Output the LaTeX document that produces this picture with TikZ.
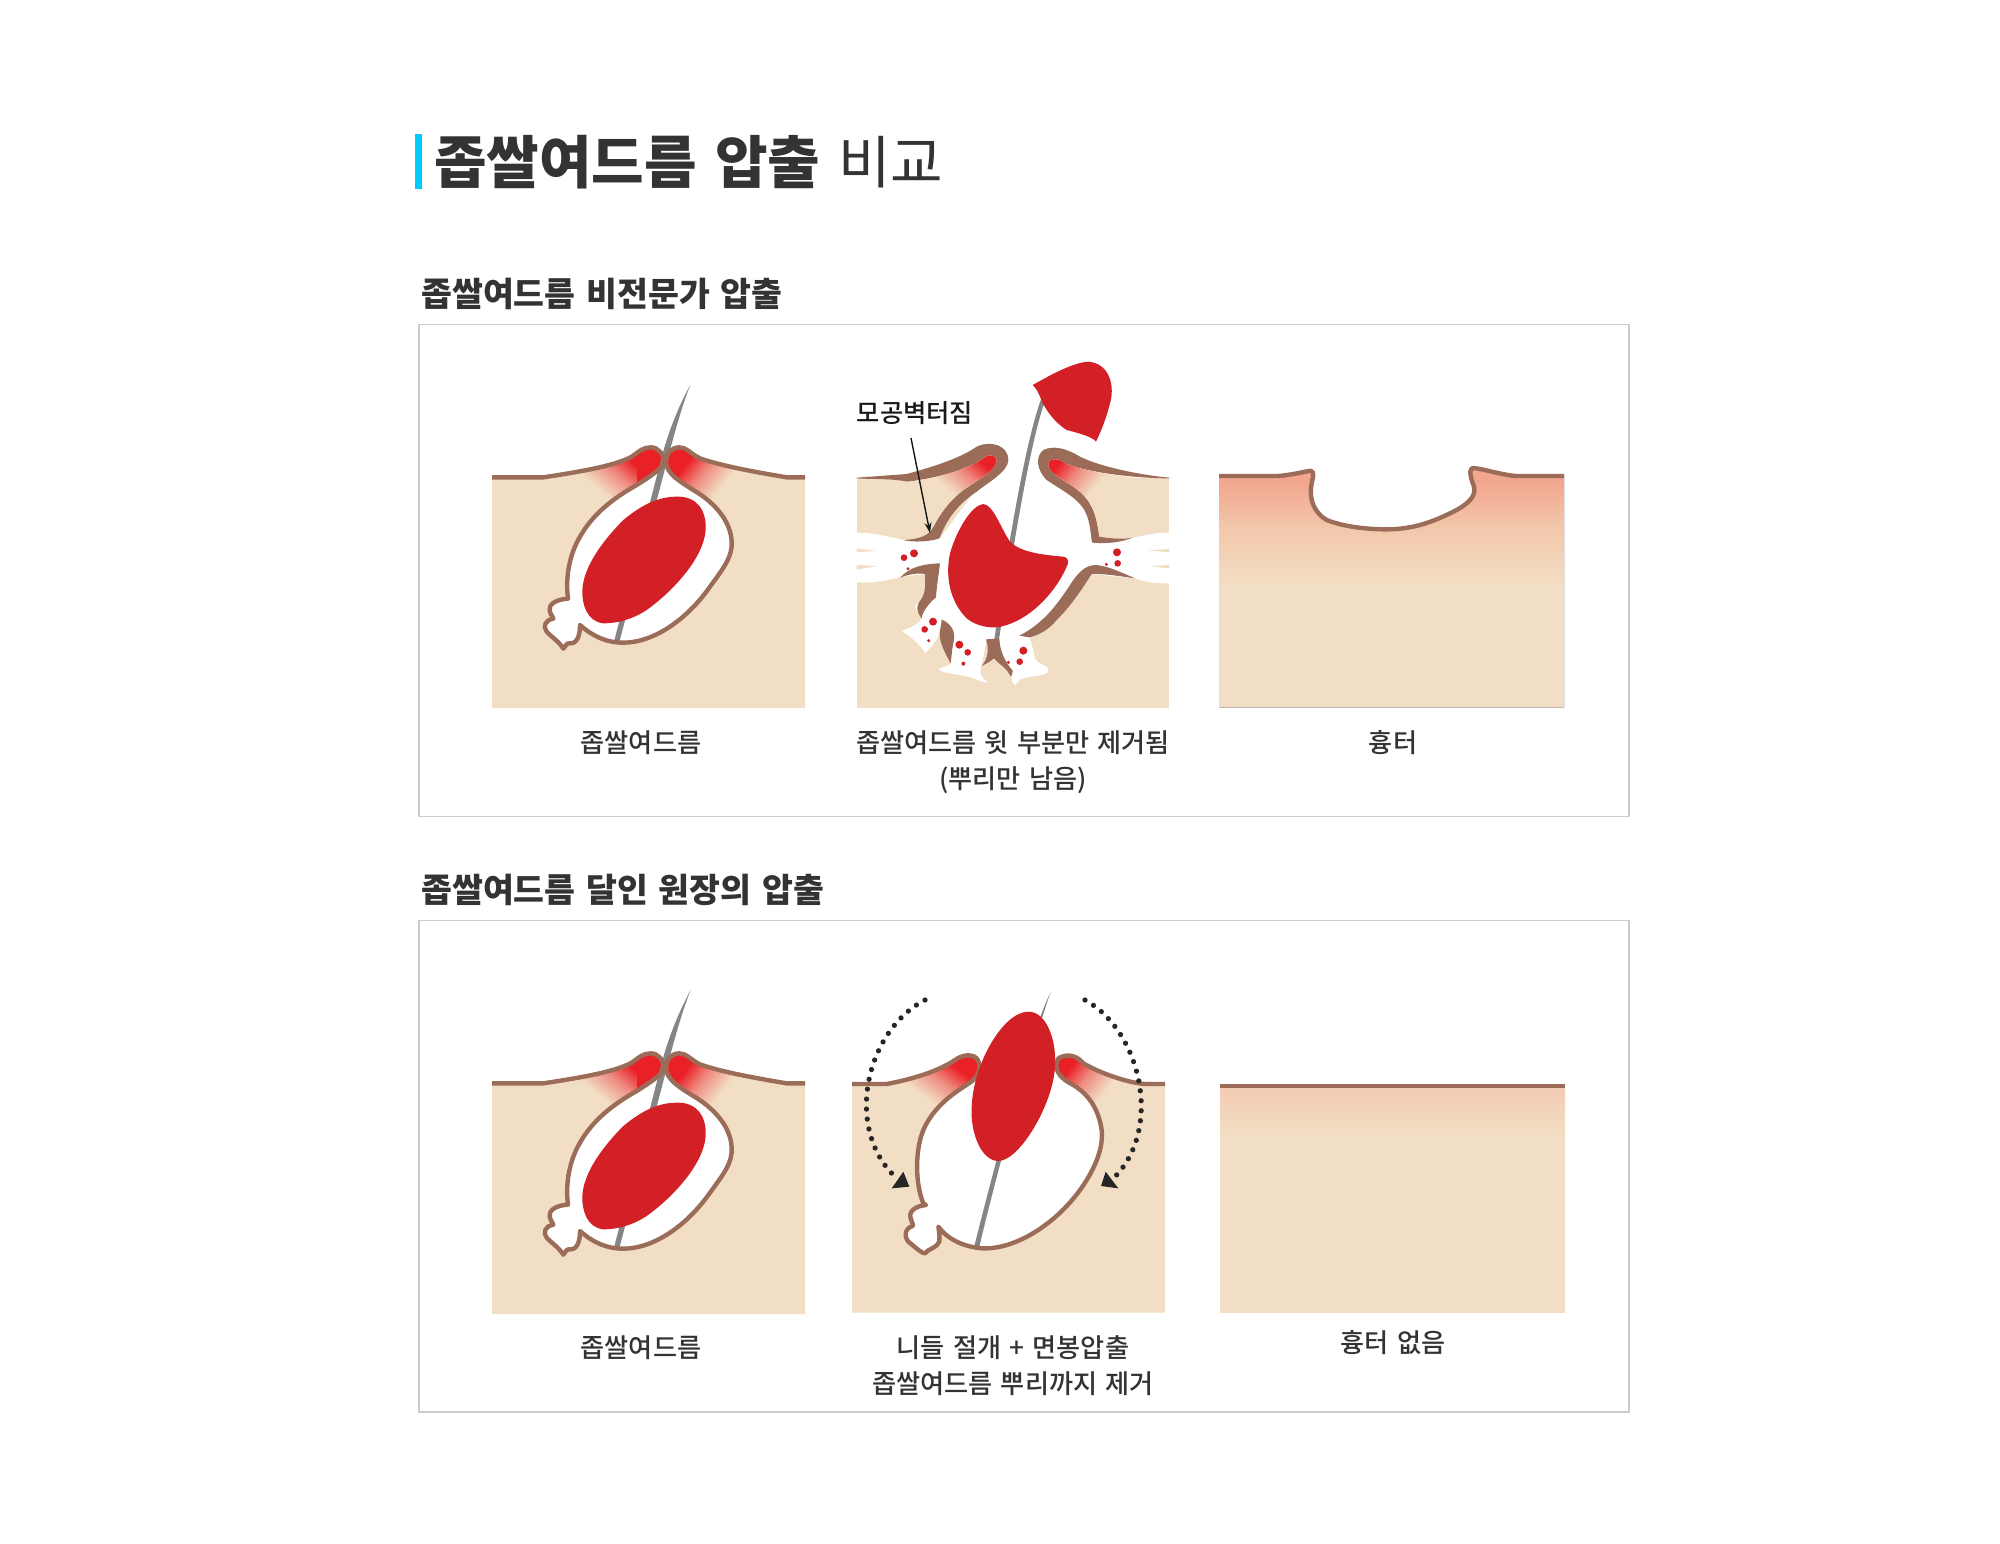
\documentclass[tikz,border=0pt]{standalone}
\usepackage{fontspec}
\setmainfont[WordSpace=1.4]{Noto Sans CJK KR}
\newfontfamily\krmedium[WordSpace=1.4]{Noto Sans CJK KR Medium}
\usetikzlibrary{arrows.meta}

\definecolor{skintone}{HTML}{F2DEC4}
\definecolor{lipbrown}{HTML}{9B6C58}
\definecolor{lipred}{HTML}{EA2027}
\definecolor{sebum}{HTML}{D32027}
\definecolor{hairgray}{HTML}{858585}
\definecolor{inkgray}{HTML}{333333}
\definecolor{framegray}{HTML}{CCCCCC}
\definecolor{barblue}{HTML}{00CCFF}
\definecolor{scarmid}{HTML}{F2C8AC}
\definecolor{scartop}{HTML}{F2A68E}
\definecolor{smoothtop}{HTML}{F3CBB2}
\colorlet{lipsoft}{lipred!45!skintone}

% gradients: redness around the pore and under the scar
\pgfdeclarehorizontalshading{lipfade}{100bp}{color(0bp)=(skintone);color(44bp)=(skintone);color(53bp)=(lipsoft);color(60bp)=(lipred);color(100bp)=(lipred)}
\pgfdeclareverticalshading{scarfade}{100bp}{color(0bp)=(skintone);color(50bp)=(skintone);color(62bp)=(scarmid);color(72bp)=(scartop);color(100bp)=(scartop)}
\pgfdeclareverticalshading{smoothfade}{100bp}{color(0bp)=(skintone);color(64bp)=(skintone);color(75bp)=(smoothtop);color(100bp)=(smoothtop)}

\newcommand{\lipglow}[3]{\begin{scope}[shift={(#1,#2)}]\shade[shading=lipfade,shading angle=#3] (-200,-200) rectangle (200,200);\end{scope}}
\newcommand{\reddot}[3]{\fill[sebum] (#1,#2) circle (#3);}

% closed outline of the sac, from the left lip round the root to the right lip
\newcommand{\sacwall}{.. controls (548,325) and (510,350) .. (470,375) .. controls (400,415) and (340,460) .. (300,530) .. controls (270,580) and (255,650) .. (264,716) .. controls (225,718) and (205,735) .. (209,752) .. controls (213,770) and (222,772) .. (220,776) .. controls (195,780) and (188,800) .. (200,815) .. controls (215,832) and (235,842) .. (250,866) .. controls (258,860) and (258,848) .. (268,850) .. controls (290,852) and (300,830) .. (300,795) .. controls (340,830) and (380,848) .. (430,848) .. controls (520,848) and (620,780) .. (690,680) .. controls (730,625) and (758,590) .. (755,545) .. controls (752,480) and (700,425) .. (640,390) .. controls (600,365) and (558,340) .. (558,305)}
\newcommand{\comedotop}{(36,352) -- (190,352) .. controls (280,338) and (400,320) .. (455,290) .. controls (480,272) and (490,262) .. (512,262) .. controls (535,262) and (548,280) .. (553,305) -- (558,305) .. controls (558,280) and (575,262) .. (598,262) .. controls (620,262) and (630,280) .. (660,295) .. controls (730,320) and (850,340) .. (920,352) -- (975,352)}

\tikzset{
  skinline/.style={draw=lipbrown,line width=2.5pt,line join=round},
  dotpath/.style={draw=black!85,line width=3pt,line cap=round,dash pattern=on 0pt off 5.7pt},
  mainhead/.style={anchor=west,text=inkgray,font=\fontsize{32.5}{36}\selectfont,inner sep=0pt},
  subhead/.style={anchor=west,text=inkgray,font=\bfseries\fontsize{19.1}{22}\selectfont,inner sep=0pt},
  caption/.style={text=inkgray,font=\krmedium\fontsize{14.9}{20.5}\selectfont,inner sep=0pt,align=center},
  frame/.style={draw=framegray,line width=0.7pt},
  comedo/.pic={
    % skin with the raised lips
    \fill[skintone] \comedotop -- (975,1044) -- (36,1044) -- cycle;
    \begin{scope}
      \clip \comedotop -- (975,1044) -- (36,1044) -- cycle;
      \lipglow{429}{387}{50}
      \lipglow{672}{370}{141.5}
    \end{scope}
    % sac
    \fill[white] (553,305) \sacwall -- cycle;
    % hair
    \fill[hairgray] (632,72) .. controls (590,150) and (565,220) .. (548,280) -- (402,845) -- (418,846) -- (566,285) .. controls (585,215) and (605,140) .. cycle;
    \draw[skinline] (36,352) -- (190,352) .. controls (280,338) and (400,320) .. (455,290) .. controls (480,272) and (490,262) .. (512,262) .. controls (535,262) and (548,280) .. (553,305) \sacwall .. controls (558,280) and (575,262) .. (598,262) .. controls (620,262) and (630,280) .. (660,295) .. controls (730,320) and (850,340) .. (920,352) -- (975,352);
    % sebum plug
    \fill[sebum] (590,410) .. controls (650,408) and (680,450) .. (677,510) .. controls (670,600) and (570,700) .. (500,750) .. controls (440,790) and (380,790) .. (370,790) .. controls (320,785) and (305,730) .. (307,690) .. controls (310,620) and (370,540) .. (430,480) .. controls (490,430) and (540,410) .. (590,410) -- cycle;
  }
}

\begin{document}
\begin{tikzpicture}[x=0.02cm,y=-0.02cm]

    \useasboundingbox (0,0) rectangle (2000,1543);
    \fill[white] (0,0) rectangle (2000,1543);

    % headings
    \fill[barblue] (415,134) rectangle (422,189);
    \node[mainhead] (mainTitle) at (434,162) {\textbf{좁쌀여드름 압출} 비교};
    \node[subhead] (topTitle) at (421,294) {좁쌀여드름 비전문가 압출};
    \node[subhead] (lowTitle) at (421,890) {좁쌀여드름 달인 원장의 압출};

    % frames
    \draw[frame] (419,324.5) rectangle (1629,816.5);
    \draw[frame] (419,920.5) rectangle (1629,1412);

    % untreated comedones
    \pic[shift={(480,360)},scale=1/3] {comedo};
    \pic[shift={(480,966)},scale=1/3] {comedo};

    % ruptured pore
    \begin{scope}[shift={(840,350)},scale=1/3]
      \fill[skintone] (50,385) rectangle (988,1073);
      % cavity with its side channels and lobes
      \fill[white] (400,430) -- (300,565) -- (190,570) .. controls (120,553) and (90,548) .. (50,548) -- (50,697) .. controls (100,700) and (150,690) .. (185,680) -- (255,672) -- (258,725) -- (245,745) -- (225,770) -- (245,805) .. controls (240,820) and (210,835) .. (185,842) .. controls (210,860) and (240,880) .. (255,910) .. controls (275,890) and (295,870) .. (300,840) -- (332,940) .. controls (325,950) and (305,950) .. (295,958) .. controls (320,975) and (360,970) .. (400,985) .. controls (415,990) and (430,1000) .. (445,997) .. controls (425,985) and (415,970) .. (425,948) -- (440,868) -- (518,962) .. controls (510,975) and (515,1000) .. (525,1005) .. controls (535,1000) and (535,985) .. (550,985) .. controls (590,975) and (630,978) .. (625,955) .. controls (615,940) and (592,945) .. (585,925) .. controls (580,900) and (575,880) .. (568,862) -- (755,672) -- (885,685) .. controls (920,700) and (960,700) .. (988,700) -- (988,548) .. controls (950,545) and (900,560) .. (880,562) -- (765,578) -- (750,450) -- (620,350) -- (505,350) -- cycle;
      % skin slivers in the channels
      \fill[skintone] (50,595) -- (108,603) -- (50,607) -- cycle;
      \fill[skintone] (50,645) -- (112,648) -- (50,659) -- cycle;
      \fill[skintone] (988,597) -- (925,601) -- (988,607) -- cycle;
      \fill[skintone] (988,645) -- (928,648) -- (988,656) -- cycle;
      % hair
      \fill[hairgray] (602,150) .. controls (550,300) and (500,620) .. (463,868) -- (477,868) .. controls (515,620) and (565,300) .. (613,158) -- cycle;
      % torn walls, left and right flap
      \fill[lipbrown] (50,383) -- (200,372) .. controls (280,350) and (360,325) .. (410,290) .. controls (450,270) and (505,285) .. (505,330) .. controls (505,365) and (440,400) .. (410,425) .. controls (350,465) and (320,510) .. (298,565) .. controls (270,575) and (220,578) .. (190,570) .. controls (240,568) and (270,555) .. (280,530) .. controls (300,490) and (330,450) .. (370,420) .. controls (420,385) and (470,360) .. (470,330) .. controls (465,312) and (445,312) .. (430,325) .. controls (380,360) and (290,385) .. (205,395) .. controls (150,385) and (100,388) .. (50,385) -- cycle;
      \fill[lipbrown] (988,383) .. controls (900,375) and (780,350) .. (720,320) .. controls (680,295) and (640,285) .. (610,300) .. controls (585,320) and (590,360) .. (620,390) .. controls (680,430) and (725,450) .. (742,500) .. controls (755,540) and (752,575) .. (758,578) .. controls (810,582) and (850,575) .. (880,562) .. controls (850,570) and (810,565) .. (778,560) .. controls (770,500) and (760,450) .. (700,410) .. controls (660,385) and (620,360) .. (625,340) .. controls (635,322) and (655,325) .. (675,340) .. controls (730,365) and (880,385) .. (988,385) -- cycle;
      % reddened skin inside the flaps
      \begin{scope}
        \clip (470,330) .. controls (470,360) and (420,385) .. (370,420) .. controls (330,450) and (300,490) .. (280,530) -- (200,500) -- (205,395) .. controls (290,385) and (380,360) .. (430,325) .. controls (445,312) and (465,312) .. (470,330) -- cycle;
        \fill[skintone] (150,250) rectangle (500,560);
        \lipglow{387}{410}{49}
      \end{scope}
      \begin{scope}
        \clip (625,340) .. controls (620,360) and (660,385) .. (700,410) .. controls (760,450) and (770,500) .. (778,560) -- (900,500) -- (900,385) .. controls (880,385) and (730,365) .. (675,340) .. controls (655,325) and (635,322) .. (625,340) -- cycle;
        \fill[skintone] (600,250) rectangle (950,560);
        \lipglow{712}{400}{141.5}
      \end{scope}
      % remaining pieces of wall
      \fill[lipbrown] (180,683) .. controls (210,650) and (250,642) .. (300,640) .. controls (295,680) and (290,710) .. (288,742) .. controls (265,760) and (245,790) .. (245,805) .. controls (230,785) and (225,770) .. (245,745) .. controls (258,725) and (255,700) .. (255,672) .. controls (240,668) and (205,672) .. (180,683) -- cycle;
      \fill[lipbrown] (305,808) .. controls (340,825) and (345,850) .. (342,870) .. controls (335,900) and (335,920) .. (332,940) .. controls (310,900) and (295,870) .. (300,840) .. controls (303,825) and (305,815) .. (305,808) -- cycle;
      \fill[lipbrown] (438,868) -- (478,866) .. controls (480,905) and (495,935) .. (518,962) .. controls (518,975) and (510,985) .. (510,975) .. controls (500,955) and (480,945) .. (462,925) .. controls (450,935) and (440,940) .. (425,948) .. controls (445,925) and (447,895) .. (438,868) -- cycle;
      \fill[lipbrown] (538,857) .. controls (620,815) and (660,750) .. (700,690) .. controls (725,655) and (745,645) .. (770,645) .. controls (810,650) and (850,670) .. (885,685) .. controls (850,680) and (790,670) .. (755,672) .. controls (730,710) and (700,760) .. (650,810) .. controls (630,835) and (600,855) .. (568,862) .. controls (555,860) and (545,858) .. (538,857) -- cycle;
      % torn plug and the part pulled out
      \fill[sebum] (430,462) .. controls (460,465) and (480,530) .. (510,575) .. controls (545,610) and (620,615) .. (670,620) .. controls (690,625) and (685,640) .. (680,650) .. controls (650,720) and (580,800) .. (500,825) .. controls (460,840) and (410,830) .. (380,805) .. controls (330,755) and (315,680) .. (330,610) .. controls (350,540) and (395,465) .. (430,462) -- cycle;
      \fill[sebum] (578,105) .. controls (640,70) and (700,38) .. (745,35) .. controls (810,40) and (825,110) .. (810,160) .. controls (800,200) and (785,240) .. (768,275) .. controls (760,262) and (720,250) .. (680,240) .. controls (640,215) and (610,170) .. (600,140) .. controls (592,120) and (585,112) .. (578,105) -- cycle;
      % spilled sebum
      \foreach \px/\py/\pr in {222/610/12,192/623/10,204/656/5,279/815/12,254/838/10,266/872/5,358/884/12,383/907/10,370/941/6,550/902/12,539/935/10,505/937/5,831/607/12,833/640/10,799/643/5}
        \reddot{\px}{\py}{\pr};
    \end{scope}

    % label with arrow to the burst wall
    \node[text=black!90,font=\krmedium\fontsize{14.4}{16}\selectfont,inner sep=0pt] (burstLabel) at (915,413) {모공벽터짐};
    \coordinate (burstFrom) at (911,438);
    \coordinate (burstTo) at (930,533);
    \draw[line width=0.8pt,black!90,-{Stealth[length=6pt,width=4pt]}] (burstFrom) -- (burstTo);

    % crater scar
    \begin{scope}[shift={(1200,450)},scale=1/3]
      \fill[shading=scarfade] (57,78) -- (235,78) .. controls (270,75) and (300,68) .. (332,62) .. controls (345,65) and (338,85) .. (335,100) .. controls (325,150) and (345,190) .. (380,210) .. controls (430,230) and (500,238) .. (560,238) .. controls (640,238) and (700,215) .. (760,185) .. controls (800,165) and (830,140) .. (822,110) .. controls (815,90) and (805,65) .. (815,55) .. controls (830,50) and (900,75) .. (950,78) -- (1092,78) -- (1092,772) -- (57,772) -- cycle;
      \fill[skintone] (57,420) rectangle (1092,772);
      \draw[skinline] (57,78) -- (235,78) .. controls (270,75) and (300,68) .. (332,62) .. controls (345,65) and (338,85) .. (335,100) .. controls (325,150) and (345,190) .. (380,210) .. controls (430,230) and (500,238) .. (560,238) .. controls (640,238) and (700,215) .. (760,185) .. controls (800,165) and (830,140) .. (822,110) .. controls (815,90) and (805,65) .. (815,55) .. controls (830,50) and (900,75) .. (950,78) -- (1092,78);
    \end{scope}

    % needle incision, plug lifted out whole
    \begin{scope}[shift={(840,970)},scale=1/3]
      \fill[skintone] (36,342) -- (140,342) .. controls (230,325) and (300,300) .. (345,270) .. controls (365,255) and (395,250) .. (410,265) -- (425,290) -- (645,290) -- (655,265) .. controls (680,250) and (710,255) .. (730,280) .. controls (790,315) and (880,342) .. (920,342) -- (975,342) -- (975,1028) -- (36,1028) -- cycle;
      \begin{scope}
        \clip (36,342) -- (140,342) .. controls (230,325) and (300,300) .. (345,270) .. controls (365,255) and (395,250) .. (410,265) -- (425,290) -- (645,290) -- (655,265) .. controls (680,250) and (710,255) .. (730,280) .. controls (790,315) and (880,342) .. (920,342) -- (975,342) -- (975,1028) -- (36,1028) -- cycle;
        \lipglow{317}{369}{53}
        \lipglow{742}{355}{141.5}
      \end{scope}
      % open sac
      \fill[white] (410,265) .. controls (425,285) and (420,310) .. (400,330) .. controls (370,355) and (290,390) .. (250,480) .. controls (225,540) and (225,640) .. (250,700) -- (258,705) .. controls (225,708) and (205,725) .. (212,745) .. controls (218,765) and (222,768) .. (218,768) .. controls (195,775) and (190,795) .. (205,815) .. controls (230,835) and (245,850) .. (255,850) .. controls (265,835) and (290,835) .. (298,815) .. controls (300,795) and (295,770) .. (295,770) .. controls (320,805) and (370,832) .. (430,835) .. controls (520,838) and (640,770) .. (720,660) .. controls (770,590) and (790,530) .. (785,480) .. controls (775,410) and (740,370) .. (700,345) .. controls (650,320) and (640,290) .. (655,265) -- (645,150) -- (425,150) -- cycle;
      % hair
      \fill[hairgray] (632,65) .. controls (560,220) and (460,600) .. (403,828) -- (418,830) .. controls (472,600) and (572,240) .. cycle;
      \draw[skinline] (36,342) -- (140,342) .. controls (230,325) and (300,300) .. (345,270) .. controls (365,255) and (395,250) .. (410,265) .. controls (425,285) and (420,310) .. (400,330) .. controls (370,355) and (290,390) .. (250,480) .. controls (225,540) and (225,640) .. (250,700) -- (258,705) .. controls (225,708) and (205,725) .. (212,745) .. controls (218,765) and (222,768) .. (218,768) .. controls (195,775) and (190,795) .. (205,815) .. controls (230,835) and (245,850) .. (255,850) .. controls (265,835) and (290,835) .. (298,815) .. controls (300,795) and (295,770) .. (295,770) .. controls (320,805) and (370,832) .. (430,835) .. controls (520,838) and (640,770) .. (720,660) .. controls (770,590) and (790,530) .. (785,480) .. controls (775,410) and (740,370) .. (700,345) .. controls (650,320) and (640,290) .. (655,265) .. controls (680,250) and (710,255) .. (730,280) .. controls (790,315) and (880,342) .. (920,342) -- (975,342);
      % plug
      \fill[sebum] (565,125) .. controls (620,125) and (650,210) .. (645,290) .. controls (640,400) and (540,572) .. (475,573) .. controls (420,572) and (390,480) .. (395,410) .. controls (400,280) and (490,125) .. (565,125) -- cycle;
      % squeeze direction
      \draw[dotpath] (255,90) .. controls (80,180) and (10,470) .. (165,620);
      \draw[dotpath] (735,90) .. controls (900,180) and (970,470) .. (825,620);
      \fill[black!85] (155,655) -- (208,650) -- (190,605) -- cycle;
      \fill[black!85] (783,648) -- (835,655) -- (797,605) -- cycle;
    \end{scope}

    % flat healed skin
    \fill[shading=smoothfade] (1220,1086) rectangle (1565,1312);
    \draw[draw=lipbrown,line width=2.5pt] (1220,1086) -- (1565,1086);

    % captions
    \node[caption] (capOne) at (641,743) {좁쌀여드름};
    \node[caption,anchor=north] (capTwo) at (1013,730) {좁쌀여드름 윗 부분만 제거됨\\(뿌리만 남음)};
    \node[caption] (capThree) at (1393,743) {흉터};
    \node[caption] (capFour) at (641,1348) {좁쌀여드름};
    \node[caption,anchor=north] (capFive) at (1013,1335) {니들 절개 + 면봉압출\\좁쌀여드름 뿌리까지 제거};
    \node[caption] (capSix) at (1393,1343) {흉터 없음};

\end{tikzpicture}
\end{document}
